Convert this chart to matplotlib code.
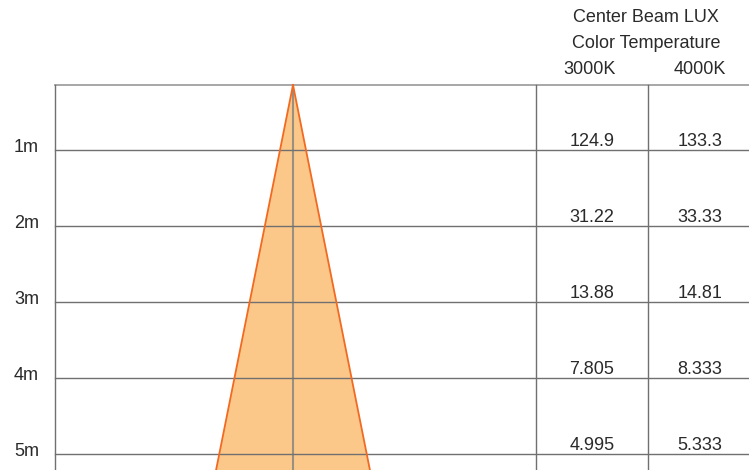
import numpy as np
import matplotlib
matplotlib.use("Agg")
import matplotlib.pyplot as plt

distances = [1, 2, 3, 4, 5]
dist_labels = ["1m", "2m", "3m", "4m", "5m"]
lux_3000 = ["124.9", "31.22", "13.88", "7.805", "4.995"]
lux_4000 = ["133.3", "33.33", "14.81", "8.333", "5.333"]
col_labels = ["3000K", "4000K"]
header = ["Center Beam LUX", "Color Temperature"]
beam_angle = 22.6  # degrees

W, H = 749, 470
PX = 76.0  # pixels per metre
fig = plt.figure(figsize=(W / 100, H / 100), dpi=100)
ax = fig.add_axes([0, 0, 1, 1])
ax.set_axis_off()
x0 = -293 / PX
x1 = (W - 293) / PX
ytop = 1 - (150 - 0) / PX
ybot = 1 + (H - 150) / PX
ax.set_xlim(x0, x1)
ax.set_ylim(ybot, ytop)

box_top = 1 - (150 - 85) / PX
box_left = (55 - 293) / PX
col1 = (536 - 293) / PX
col2 = (648 - 293) / PX
colc = [(col1 + col2) / 2, (col2 + x1) / 2 + 0.02]

font = ["Liberation Sans", "DejaVu Sans"]
gc = "#707070"
tc = "#2a2a2a"
lw = 1.0

# beam
half = np.tan(np.radians(beam_angle / 2))
yb = ybot + 0.2
ax.fill([0, -half * (yb - box_top), half * (yb - box_top)], [box_top, yb, yb],
        color="#fbc88a", lw=0, zorder=1)
for s in (-1, 1):
    ax.plot([0, s * half * (yb - box_top)], [box_top, yb], color="#f26a21", lw=1.3, zorder=3)
ax.plot([0, 0], [box_top, yb], color="#999080", lw=1.5, zorder=2)

# grid
ax.plot([box_left, x1], [box_top, box_top], color="#a0a0a0", lw=1.3, zorder=2)
ax.plot([box_left, box_left], [box_top, yb], color=gc, lw=lw, zorder=2)
for cx in (col1, col2):
    ax.plot([cx, cx], [box_top, yb], color=gc, lw=lw, zorder=2)
for d in distances:
    ax.plot([box_left, x1], [d, d], color=gc, lw=lw, zorder=2)

fs = 13.0
for d, lab, a, b in zip(distances, dist_labels, lux_3000, lux_4000):
    ax.text((39 - 293) / PX, d - 3 / PX, lab, ha="right", va="center", fontsize=fs,
            family=font, color=tc)
    ax.text(colc[0], d - 9 / PX, a, ha="center", va="center", fontsize=fs,
            family=font, color=tc)
    ax.text(colc[1], d - 9 / PX, b, ha="center", va="center", fontsize=fs,
            family=font, color=tc)

hx = (646 - 293) / PX
ax.text(hx, 1 - (150 - 17) / PX, header[0], ha="center", va="center", fontsize=fs,
        family=font, color=tc)
ax.text(hx, 1 - (150 - 43) / PX, header[1], ha="center", va="center", fontsize=fs,
        family=font, color=tc)
ax.text((590 - 293) / PX, 1 - (150 - 70) / PX, col_labels[0], ha="center", va="center",
        fontsize=fs, family=font, color=tc)
ax.text((700 - 293) / PX, 1 - (150 - 70) / PX, col_labels[1], ha="center", va="center",
        fontsize=fs, family=font, color=tc)

fig.savefig("out.png", dpi=100)
